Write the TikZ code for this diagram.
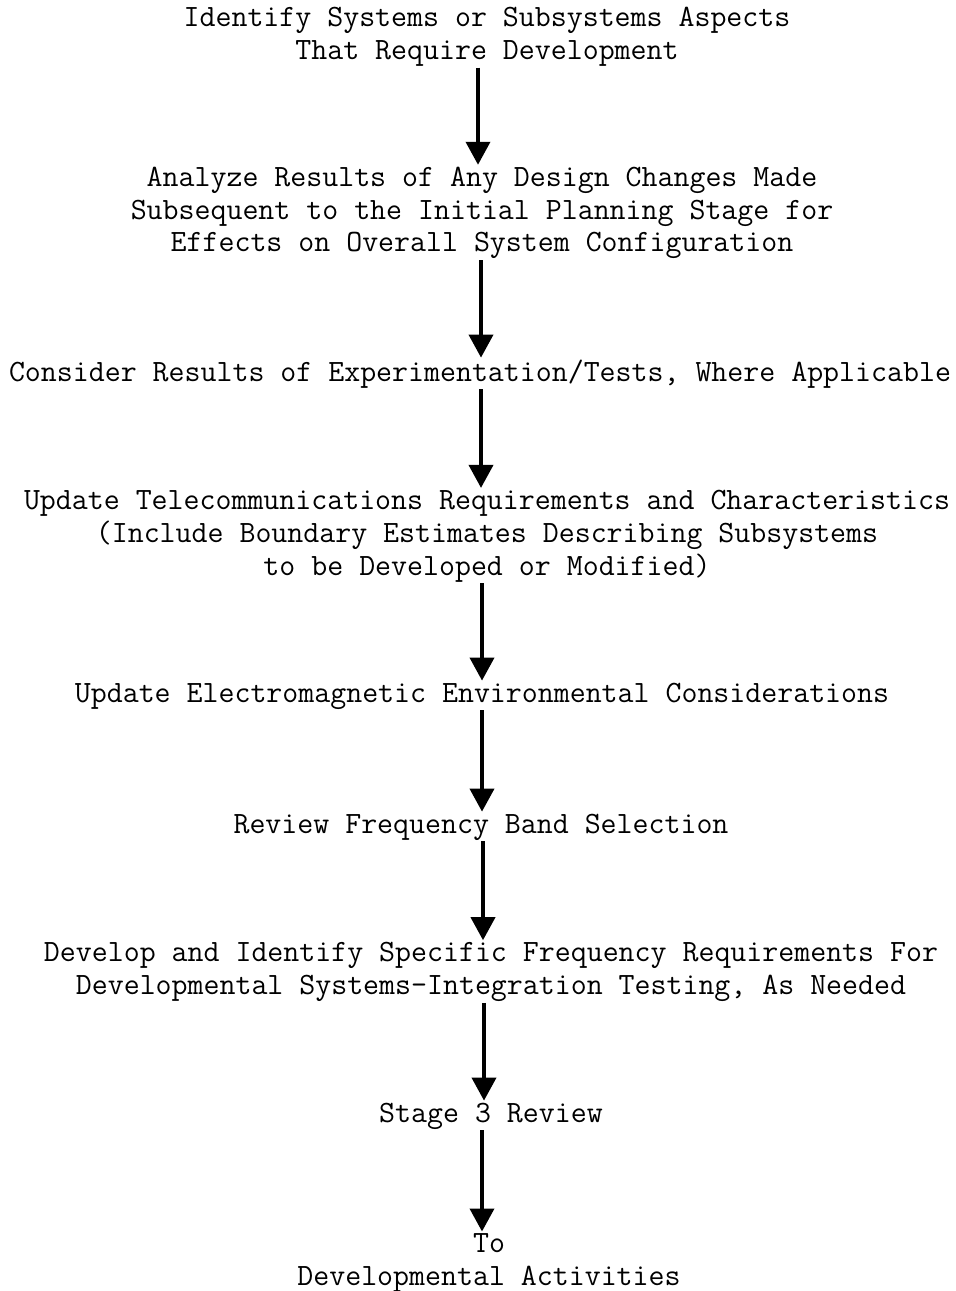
\documentclass[tikz,border=0pt]{standalone}
\usetikzlibrary{arrows.meta}
\begin{document}
\begin{tikzpicture}[x=1pt,y=-1pt,
  stepbox/.style={inner sep=0pt, align=center,
    font=\ttfamily\fontsize{31}{32.8}\selectfont},
  flow/.style={line width=3.8pt, -{Triangle[width=24pt,length=23pt]},
    shorten <=1pt, shorten >=2pt}]
\useasboundingbox (0,0) rectangle (956,1291);

\node[stepbox] (n1) at (487,37) {Identify Systems or Subsystems Aspects\\That Require Development};
\node[stepbox] (n2) at (482,213) {Analyze Results of Any Design Changes Made\\Subsequent to the Initial Planning Stage for\\Effects on Overall System Configuration};
\node[stepbox] (n3) at (480,374) {Consider Results of Experimentation/Tests, Where Applicable};
\node[stepbox] (n4) at (487,536) {Update Telecommunications Requirements and Characteristics\\(Include Boundary Estimates Describing Subsystems\\to be Developed or Modified)};
\node[stepbox] (n5) at (482,696) {Update Electromagnetic Environmental Considerations};
\node[stepbox] (n6) at (481,827) {Review Frequency Band Selection};
\node[stepbox] (n7) at (491,972) {Develop and Identify Specific Frequency Requirements For\\Developmental Systems-Integration Testing, As Needed};
\node[stepbox] (n8) at (491,1116) {Stage 3 Review};
\node[stepbox] (n9) at (489,1263) {To\\Developmental Activities};

\draw[flow] (n1.south -| 478,0) -- (n2.north -| 478,0);
\draw[flow] (n2.south -| 481,0) -- (n3.north -| 481,0);
\draw[flow] (n3.south -| 481,0) -- (n4.north -| 481,0);
\draw[flow] (n4.south -| 482,0) -- (n5.north -| 482,0);
\draw[flow] (n5.south -| 482,0) -- (n6.north -| 482,0);
\draw[flow] (n6.south -| 483,0) -- (n7.north -| 483,0);
\draw[flow] (n7.south -| 484,0) -- (n8.north -| 484,0);
\draw[flow] (n8.south -| 482,0) -- (n9.north -| 482,0);
\end{tikzpicture}
\end{document}
